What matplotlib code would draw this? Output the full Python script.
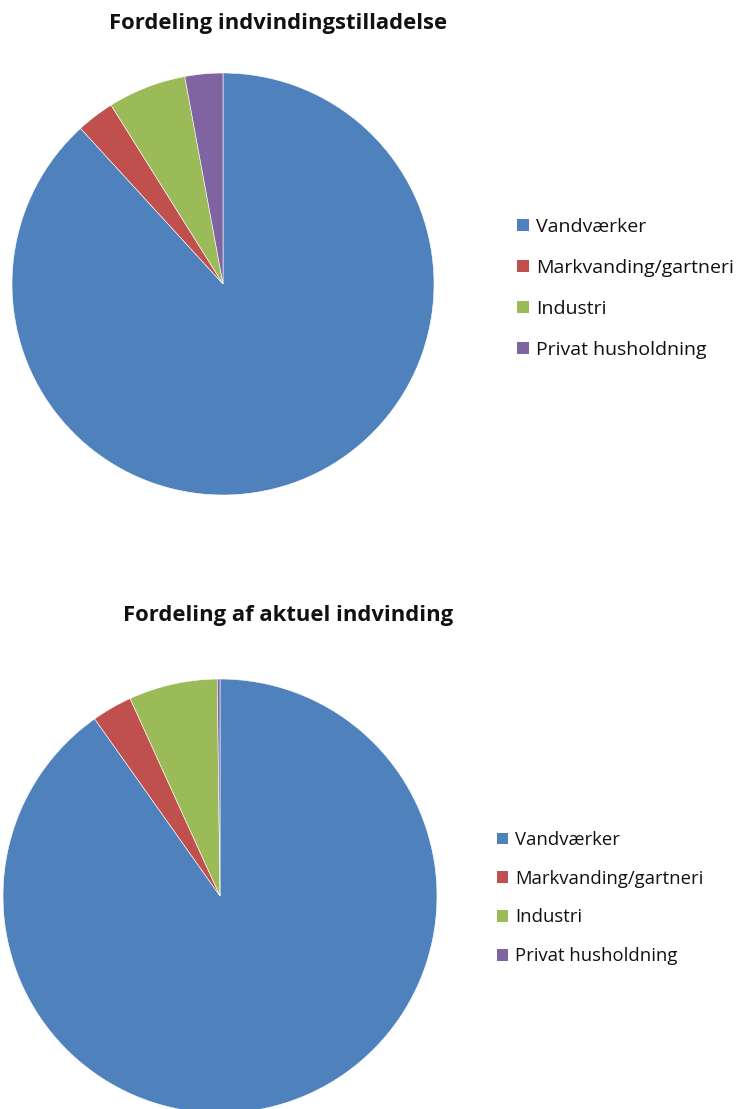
import matplotlib
matplotlib.use("Agg")
import matplotlib.pyplot as plt
from matplotlib.patches import Patch

categories = ["Vandværker", "Markvanding/gartneri", "Industri", "Privat husholdning"]
tilladelse = [88.2, 2.9, 6.0, 2.9]
aktuel = [90.2, 3.0, 6.6, 0.2]
colors = ["#4F81BD", "#C0504D", "#9BBB59", "#8064A2"]
titles = ["Fordeling indvindingstilladelse", "Fordeling af aktuel indvinding"]

W, H = 743, 1109
fig = plt.figure(figsize=(W / 100, H / 100), dpi=100)
plt.rcParams['font.family'] = ['Open Sans', 'DejaVu Sans']

def add_pie(cx, cy, r, values, title, tx, ty, lx, ly, lfs, lsp):
    ax = fig.add_axes([(cx - r) / W, (H - (cy + r)) / H, 2 * r / W, 2 * r / H])
    ax.pie(values, colors=colors, startangle=90, counterclock=False, radius=1,
           wedgeprops=dict(edgecolor="white", linewidth=0.4))
    ax.set_xlim(-1, 1)
    ax.set_ylim(-1, 1)
    ax.set_aspect("auto")
    ax.axis("off")
    fig.text(tx / W, 1 - ty / H, title, ha="center", va="center",
             fontsize=15.8, fontweight="bold", color="#111111")
    handles = [Patch(facecolor=c, edgecolor="none") for c in colors]
    fig.legend(handles, categories, loc="upper left", bbox_to_anchor=(lx / W, 1 - ly / H),
               frameon=False, fontsize=lfs, handlelength=0.62, handleheight=0.62,
               handletextpad=0.35, labelspacing=lsp, borderaxespad=0, borderpad=0,
               labelcolor="#111111")

add_pie(223, 284, 211, tilladelse, titles[0], 278, 24, 517, 218, 14, 1.18)
add_pie(220, 896, 217, aktuel, titles[1], 288, 615, 497, 831, 13.3, 1.12)

fig.savefig("out.png", dpi=100)
